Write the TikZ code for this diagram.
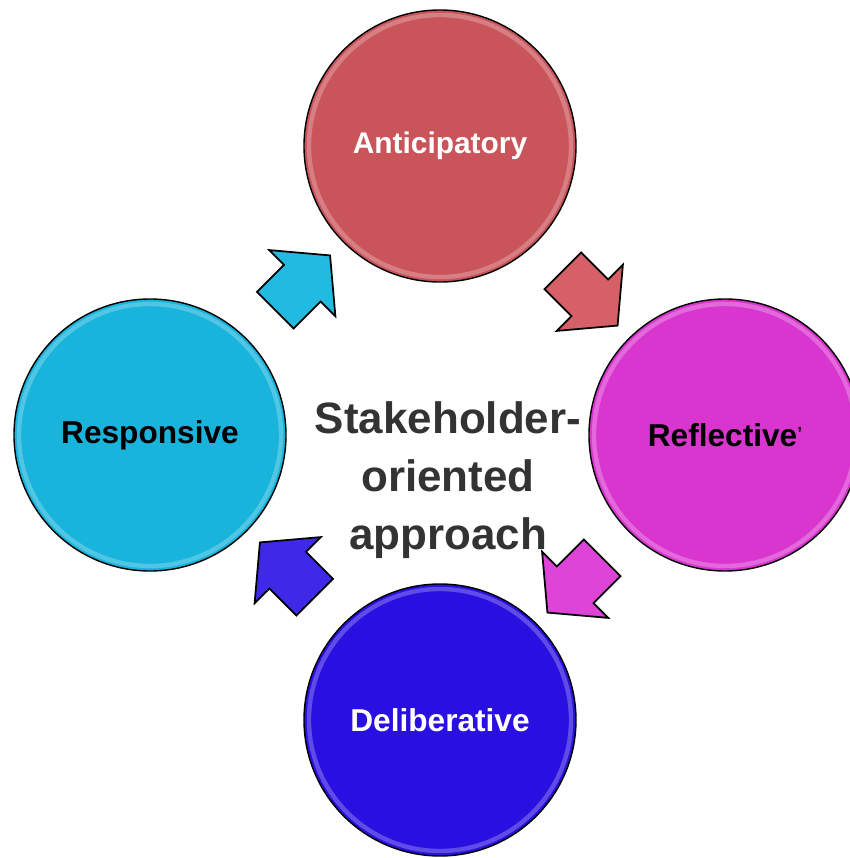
\documentclass[tikz,border=0pt]{standalone}
\usepackage{fontspec}
\setmainfont{Liberation Sans}
\usetikzlibrary{shapes.arrows,calc}
\definecolor{rosso}{RGB}{201,84,90}
\definecolor{viola}{RGB}{217,54,208}
\definecolor{blu}{RGB}{42,16,224}
\definecolor{azzurro}{RGB}{24,180,220}
\definecolor{rossochiaro}{RGB}{214,96,104}
\definecolor{violachiaro}{RGB}{222,68,216}
\definecolor{bluchiaro}{RGB}{62,42,230}
\definecolor{azzurrochiaro}{RGB}{35,186,226}
\definecolor{grigio}{RGB}{51,51,51}
\tikzstyle{cycle chart}=[
    stage/.style={circle, draw=black, line width=0.8pt, minimum size=5.44cm, inner sep=0pt,
        font={\fontsize{18}{21}\selectfont\bfseries}},
    rim/.style={white, opacity=.25, line width=2.5pt},
    flow/.style={single arrow, draw=black, line width=1pt, minimum height=1.55cm,
        inner sep=0.5cm, single arrow head extend=0.42cm, single arrow tip angle=100},
    hub/.style={align=center, text=grigio, font={\fontsize{25}{33}\selectfont\bfseries}},
]

\begin{document}
\begin{tikzpicture}[cycle chart]

    \useasboundingbox (0,0) rectangle (17,17.16);
    \clip (0,0) rectangle (17,17.16);

    \node[stage, fill=rosso, text=white, font={\fontsize{17}{20}\selectfont\bfseries}] (anti) at (8.8,14.24) {Anticipatory};
    \node[stage, fill=viola] (refl) at (14.5,8.46) {Reflective\raisebox{4pt}{\fontsize{10}{10}\selectfont ’}};
    \node[stage, fill=blu, text=white] (deli) at (8.8,2.76) {Deliberative};
    \node[stage, fill=azzurro] (resp) at (3.0,8.46) {Responsive};

    \foreach \n in {anti,refl,deli,resp}
        \draw[rim] (\n.center) circle (2.62);

    \node[flow, fill=azzurrochiaro, rotate=45] (a1) at ($(resp)!0.5!(anti)$) {};
    \node[flow, fill=rossochiaro, rotate=-45] (a2) at ($(anti)!0.5!(refl)$) {};
    \node[flow, fill=violachiaro, rotate=-135] (a3) at ($(refl)!0.5!(deli)$) {};
    \node[flow, fill=bluchiaro, rotate=135] (a4) at ($(deli)!0.5!(resp)$) {};

    \node[hub] (centro) at (8.96,7.55) {Stakeholder-\\oriented\\approach};

\end{tikzpicture}
\end{document}
